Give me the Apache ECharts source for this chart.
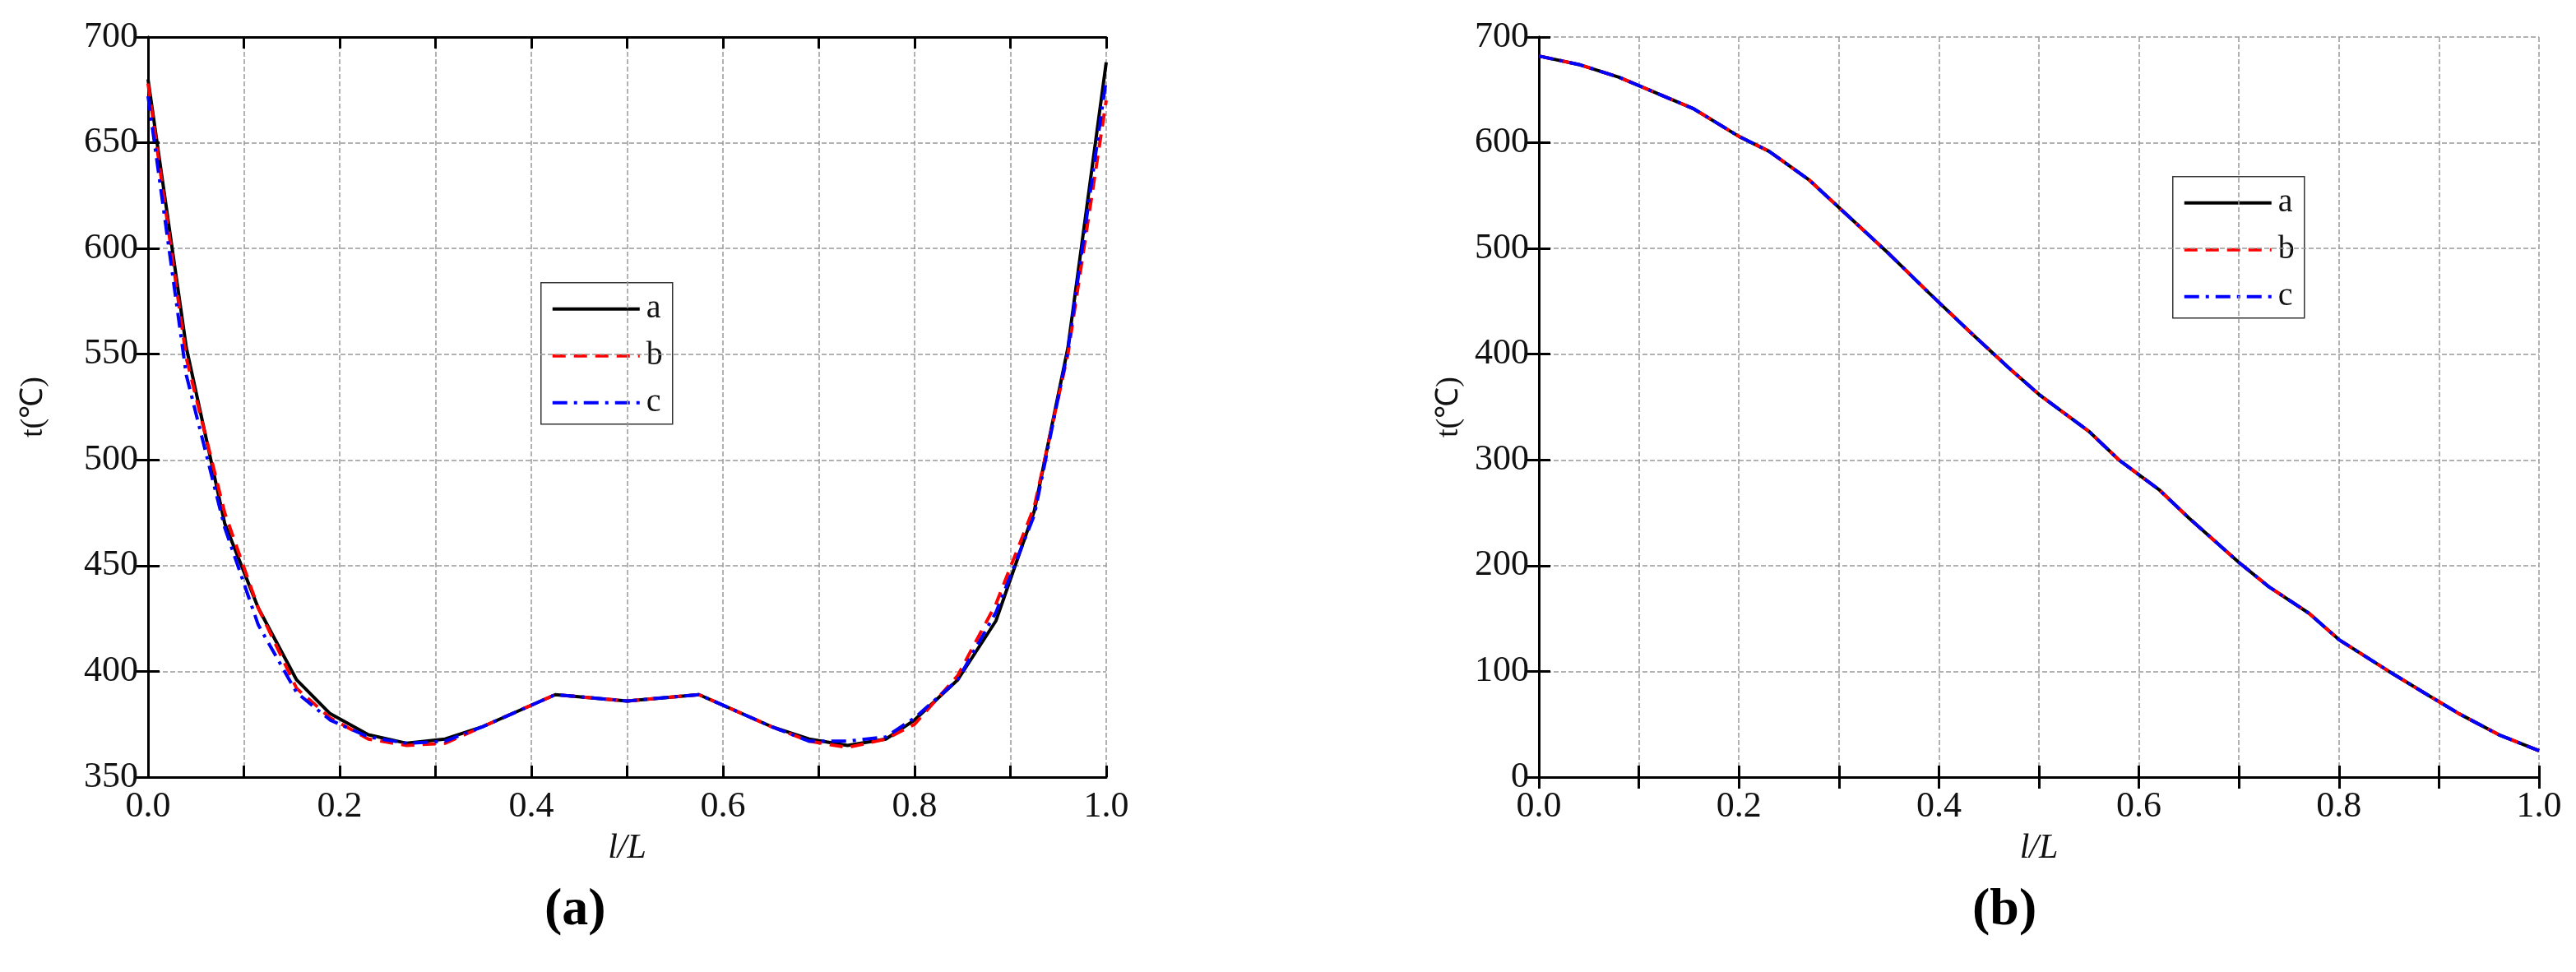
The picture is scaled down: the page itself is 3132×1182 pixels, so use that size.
<!DOCTYPE html>
<html><head><meta charset="utf-8">
<script src="https://cdn.jsdelivr.net/npm/echarts@6/dist/echarts.min.js"></script>
<style>html,body{margin:0;background:#fff}#main{width:3132px;height:1182px}</style>
</head><body><div id="main"></div>
<script>
// (a) data
var xA = [0, 0.04, 0.08, 0.115, 0.155, 0.19, 0.23, 0.27, 0.31, 0.35, 0.425, 0.5, 0.575, 0.65, 0.69, 0.73, 0.77, 0.8, 0.845, 0.885, 0.925, 0.96, 1.0];
var aA = [680, 553, 470, 430, 396, 380, 370, 366, 368, 374, 389, 386, 389, 374, 368, 365, 368, 377, 396, 424, 476, 553, 688];
var bA = [678, 548, 475, 430, 392, 378, 368, 365, 366, 374, 389, 386, 389, 374, 367, 364, 368, 375, 398, 432, 478, 550, 670];
var cA = [672, 540, 468, 422, 390, 377, 369, 366, 367, 374, 389, 386, 389, 374, 367, 367, 369, 378, 396, 428, 474, 552, 680];
// (b) data
var xB = [0, 0.04, 0.08, 0.155, 0.2, 0.23, 0.27, 0.31, 0.35, 0.39, 0.43, 0.47, 0.5, 0.55, 0.58, 0.62, 0.65, 0.7, 0.73, 0.77, 0.8, 0.85, 0.89, 0.92, 0.96, 1.0];
var aB = [682, 674, 662, 632, 606, 592, 565, 530, 495, 458, 422, 387, 362, 327, 300, 272, 245, 203, 180, 155, 130, 100, 77, 60, 40, 25];
var bB = aB.slice();
var cB = aB.slice();
var names = ['a', 'b', 'c'];

var font = 'Liberation Serif';
function pairs(xs, ys) { return xs.map(function (x, i) { return [x, ys[i]]; }); }

var grids = [
  {left: 180, width: 1165, top: 45, height: 900},
  {left: 1871, width: 1216, top: 45, height: 900}
];
var yCfg = [{min: 350, max: 700, interval: 50}, {min: 0, max: 700, interval: 100}];

var xAxis = [], yAxis = [], series = [];
grids.forEach(function (g, i) {
  xAxis.push({type: 'value', gridIndex: i, min: 0, max: 1, interval: 0.1,
    name: 'l/L', nameLocation: 'middle', nameGap: 66,
    nameTextStyle: {fontFamily: font, fontSize: 42, fontStyle: 'italic', color: '#111'},
    axisLine: {lineStyle: {color: '#000', width: 3}},
    axisTick: {inside: true, length: 14, lineStyle: {color: '#000', width: 3}},
    axisLabel: {fontFamily: font, fontSize: 44, color: '#111', margin: 14,
      formatter: function (v) { var r = Math.round(v * 10); return r % 2 === 0 ? v.toFixed(1) : ''; }},
    splitLine: {show: true, lineStyle: {color: '#999', type: 'dashed', width: 1.5}}});
  xAxis.push({type: 'value', gridIndex: i, position: 'top', min: 0, max: 1, interval: 0.1,
    axisLine: {lineStyle: {color: '#000', width: 3}},
    axisTick: {inside: true, length: 14, lineStyle: {color: '#000', width: 3}},
    axisLabel: {show: false}, splitLine: {show: false}});
  yAxis.push({type: 'value', gridIndex: i, min: yCfg[i].min, max: yCfg[i].max, interval: yCfg[i].interval,
    name: 't(℃)', nameLocation: 'middle', nameGap: i === 0 ? 120 : 90,
    nameTextStyle: {fontFamily: font, fontSize: 38, color: '#111'},
    axisLine: {lineStyle: {color: '#000', width: 3}},
    axisTick: {inside: true, length: 14, lineStyle: {color: '#000', width: 3}},
    axisLabel: {fontFamily: font, fontSize: 44, color: '#111', margin: 12},
    splitLine: {show: true, lineStyle: {color: '#999', type: 'dashed', width: 1.5}}});
  yAxis.push({type: 'value', gridIndex: i, position: 'right', min: yCfg[i].min, max: yCfg[i].max, interval: yCfg[i].interval,
    axisLine: {lineStyle: {color: '#000', width: 3}},
    axisTick: {inside: true, length: 14, lineStyle: {color: '#000', width: 3}},
    axisLabel: {show: false}, splitLine: {show: false}});
});

var styles = [
  {color: '#000', type: 'solid'},
  {color: '#f00', type: [16, 10]},
  {color: '#00f', type: [18, 8, 4, 8]}
];
var sets = [[xA, [aA, bA, cA]], [xB, [aB, bB, cB]]];
sets.forEach(function (s, gi) {
  s[1].forEach(function (ys, k) {
    series.push({type: 'line', name: names[k], xAxisIndex: gi * 2, yAxisIndex: gi * 2,
      data: pairs(s[0], ys), showSymbol: false, z: 3 + k,
      lineStyle: {color: styles[k].color, type: styles[k].type, width: 4}});
  });
});

// legend boxes drawn as graphics (line samples + labels)
function legendBox(x, y) {
  var children = [{type: 'rect', shape: {x: 0, y: 0, width: 160, height: 172},
    style: {fill: '#fff', stroke: '#333', lineWidth: 1.5}}];
  names.forEach(function (n, k) {
    var yy = 32 + k * 57;
    children.push({type: 'line', shape: {x1: 14, y1: yy, x2: 120, y2: yy},
      style: {stroke: styles[k].color, lineWidth: 4, lineDash: styles[k].type === 'solid' ? null : styles[k].type}});
    children.push({type: 'text', style: {x: 128, y: yy, text: n, font: '40px "Liberation Serif"', fill: '#111', textVerticalAlign: 'middle'}});
  });
  return {type: 'group', left: x, top: y, z: 100, children: children};
}

var chart = echarts.init(document.getElementById('main'));
chart.setOption({
  animation: false,
  grid: grids,
  xAxis: xAxis, yAxis: yAxis, series: series,
  graphic: [
    legendBox(657, 343),
    legendBox(2641, 214),
    {type: 'text', left: 662, top: 1075, style: {text: '(a)', font: 'bold 64px "Liberation Serif"', fill: '#000'}},
    {type: 'text', left: 2398, top: 1075, style: {text: '(b)', font: 'bold 64px "Liberation Serif"', fill: '#000'}}
  ]
});
</script></body></html>
